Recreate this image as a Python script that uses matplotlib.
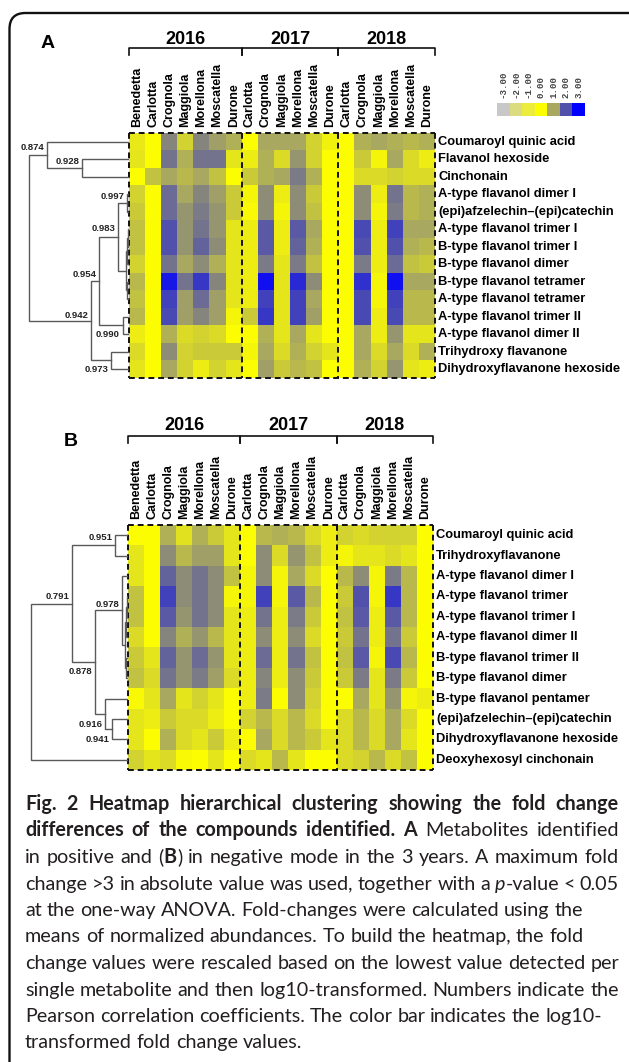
import matplotlib
matplotlib.use('Agg')
import matplotlib.pyplot as plt
from matplotlib.colors import LinearSegmentedColormap
from matplotlib.patches import FancyBboxPatch
from matplotlib.transforms import IdentityTransform
import numpy as np

# ---------------- data ----------------
years = ["2016", "2017", "2018"]
cultivars_2016 = ["Benedetta", "Carlotta", "Crognola", "Maggiola", "Morellona", "Moscatella", "Durone"]
cultivars_2017 = ["Carlotta", "Crognola", "Maggiola", "Morellona", "Moscatella", "Durone"]
cultivars_2018 = ["Carlotta", "Crognola", "Maggiola", "Morellona", "Moscatella", "Durone"]
columns = cultivars_2016 + cultivars_2017 + cultivars_2018
block_sizes = [len(cultivars_2016), len(cultivars_2017), len(cultivars_2018)]

compounds_a = ["Coumaroyl quinic acid", "Flavanol hexoside", "Cinchonain",
               "A-type flavanol dimer I", "(epi)afzelechin\u2013(epi)catechin",
               "A-type flavanol trimer I", "B-type flavanol trimer I", "B-type flavanol dimer",
               "B-type flavanol tetramer", "A-type flavanol tetramer", "A-type flavanol trimer II",
               "A-type flavanol dimer II", "Trihydroxy flavanone", "Dihydroxyflavanone hexoside"]
compounds_b = ["Coumaroyl quinic acid", "Trihydroxyflavanone", "A-type flavanol dimer I",
               "A-type flavanol trimer", "A-type flavanol trimer I", "A-type flavanol dimer II",
               "B-type flavanol trimer II", "B-type flavanol dimer", "B-type flavanol pentamer",
               "(epi)afzelechin\u2013(epi)catechin", "Dihydroxyflavanone hexoside",
               "Deoxyhexosyl cinchonain"]

# log10 fold change, rows = compounds, columns = year/cultivar
fold_a = np.array([
    [0.25, 0, 1.4, 0.5, 1.4, 1.1, 0.9, 0.0, 1.0, 1.0, 1.0, 0.5, 0.15, 0, 0.9, 1.0, 0.9, 0.8, 0.9],
    [0.3, 0, 1.6, 0.9, 1.6, 1.6, 0.3, 0.2, 0.9, 0.4, 1.2, 0.5, 0, 0, 0.6, 0.1, 1.0, 0.4, 0.2],
    [0.0, 0.7, 1.0, 0.8, 1.0, 0.7, 0.0, 0.6, 0.9, 1.0, 1.5, 0.9, 0, 0, 0.4, 0.4, 0.5, 0.4, 0.4],
    [0.5, 0, 1.7, 1.0, 1.4, 1.1, 0.6, 0.1, 1.3, 0.2, 1.3, 0.6, 0, 0, 1.3, 0.2, 1.6, 0.8, 0.9],
    [0.6, 0, 1.7, 1.2, 1.5, 1.2, 0.6, 0.05, 1.3, 0.1, 1.3, 0.7, 0, 0, 1.3, 0.1, 1.5, 0.8, 0.9],
    [0.7, 0, 2.0, 1.2, 1.6, 1.2, 0.3, 0.2, 1.9, 0.2, 1.9, 1.0, 0, 0, 2.1, 0.2, 2.2, 1.0, 1.0],
    [0.7, 0, 2.0, 1.2, 1.8, 1.3, 0.3, 0.2, 1.9, 0.2, 1.8, 0.9, 0, 0, 2.0, 0.2, 2.0, 0.9, 0.8],
    [0.5, 0, 1.6, 1.0, 1.3, 0.9, 0.3, 0.2, 1.5, 0.3, 1.5, 0.7, 0, 0, 1.5, 0.2, 1.7, 0.7, 0.6],
    [0.8, 0, 2.7, 1.6, 2.3, 1.4, 0.3, 0.2, 2.8, 0.3, 2.5, 1.3, 0, 0, 2.4, 0.1, 2.8, 1.0, 1.0],
    [0.7, 0, 2.2, 1.1, 1.7, 1.1, 0.3, 0.2, 2.2, 0.3, 2.2, 1.0, 0, 0, 2.1, 0.1, 2.2, 0.8, 0.8],
    [0.8, 0, 2.1, 1.1, 1.4, 1.1, 0.1, 0.6, 2.3, 0.3, 2.2, 1.1, 0, 0, 2.1, 0.2, 2.1, 0.8, 0.8],
    [0.2, 0, 0.9, 0.4, 0.5, 0.4, 0.0, 0.0, 0.9, 0.3, 1.0, 0.3, 0, 0, 1.0, 0.2, 1.2, 0.3, 0.3],
    [0.4, 0, 1.3, 0.5, 0.6, 0.6, 0.6, 0.1, 1.0, 0.4, 0.9, 0.5, 0.3, 0, 1.0, 0.4, 1.0, 0.4, 0.9],
    [0.3, 0, 1.0, 0.5, 0.2, 0.5, 0.3, 0.0, 1.1, 0.6, 0.8, 0.7, 0, 0, 0.9, 0.5, 1.2, 0.3, 0.2],
])
fold_b = np.array([
    [0, 0, 0.9, 0.35, 0.9, 0.6, 0.3, 0, 0.8, 0.9, 0.8, 0.4, 0.2, 0.5, 0.4, 0.5, 0.5, 0.5, 0],
    [0.3, 0, 1.3, 0.8, 1.1, 1.1, 0.3, 0, 1.3, 0.4, 1.2, 0.7, 0.2, 0.1, 0.3, 0.3, 0.4, 0.3, 0],
    [0.3, 0, 1.8, 1.3, 1.6, 1.3, 0.7, 0.1, 1.3, 0.1, 1.0, 0.4, 0, 0.8, 1.3, 0.1, 1.5, 0.8, 0],
    [0.7, 0, 2.2, 1.3, 1.6, 1.3, 0.1, 0.1, 2.2, 0.1, 1.9, 0.8, 0, 0.6, 2.0, 0.1, 2.3, 0.8, 0],
    [0.7, 0, 1.9, 1.2, 1.6, 1.3, 0.3, 0.2, 1.6, 0.2, 1.5, 0.6, 0, 0.7, 1.9, 0.2, 1.9, 0.8, 0],
    [0.4, 0, 1.4, 0.9, 1.2, 0.8, 0.3, 0.2, 1.3, 0.2, 1.3, 0.4, 0, 0.6, 1.6, 0.2, 1.6, 0.6, 0],
    [0.6, 0.3, 1.8, 1.2, 1.7, 1.2, 0.3, 0.2, 1.7, 0.2, 1.6, 0.7, 0, 0.7, 1.9, 0.1, 2.1, 0.8, 0],
    [0.7, 0.4, 1.6, 1.2, 1.5, 1.1, 0.4, 0.2, 1.4, 0.2, 1.3, 0.6, 0, 0.6, 1.5, 0.3, 1.5, 0.6, 0],
    [0.05, 0.3, 1.0, 0.3, 0.5, 0.3, 0, 0.2, 1.5, 0, 1.3, 0.5, 0, 0, 1.0, 0.3, 1.2, 0.1, 0.2],
    [0.3, 0.2, 0.6, 0.4, 0.4, 0.2, 0, 0.5, 0.8, 0.4, 0.8, 0.4, 0, 0.4, 0.8, 0.4, 1.0, 0.4, 0],
    [0.3, 0, 0.9, 0.4, 0.3, 0.6, 0.2, 0, 1.0, 0.4, 0.8, 0.6, 0.3, 0.4, 0.8, 0.4, 1.0, 0.3, 0],
    [0.5, 0.3, 0.4, 0.05, 0, 0.3, 0, 0.4, 0.3, 0.8, 0.3, 0, 0, 0.4, 0.5, 0.8, 0.4, 0.7, 0],
])

# dendrograms: (child, child, Pearson r); ids >= n are earlier merges
merges_a = [(1, 2, 0.928), (0, 14, 0.874), (3, 4, 0.997), (5, 6, 0.998), (17, 7, 0.9965),
            (8, 9, 0.997), (18, 19, 0.995), (16, 20, 0.983), (10, 11, 0.990), (21, 22, 0.954),
            (12, 13, 0.973), (23, 24, 0.942), (15, 25, 0.846)]
labelled_a = [True, True, True, False, False, False, False, True, True, True, True, True, False]
merges_b = [(0, 1, 0.951), (3, 4, 0.995), (13, 5, 0.992), (6, 7, 0.993), (14, 15, 0.989),
            (2, 16, 0.978), (9, 10, 0.941), (8, 18, 0.916), (17, 19, 0.878), (12, 20, 0.791),
            (21, 11, 0.640)]
labelled_b = [True, False, False, False, False, True, True, True, True, True, False]

colorbar_ticks = [-3, -2, -1, 0, 1, 2, 3]
colorbar_colors = ['#c8c8c8', '#dcdc80', '#ecec3c', '#ffff00', '#a8a860', '#5252ac', '#0000ff']

caption_lines = [
    "*Fig. 2 Heatmap hierarchical clustering showing the fold change*",
    "*differences of the compounds identified. A* Metabolites identified",
    "in positive and (*B*) in negative mode in the 3 years. A maximum fold",
    "change >3 in absolute value was used, together with a _p_-value < 0.05",
    "at the one-way ANOVA. Fold-changes were calculated using the",
    "means of normalized abundances. To build the heatmap, the fold",
    "change values were rescaled based on the lowest value detected per",
    "single metabolite and then log10-transformed. Numbers indicate the",
    "Pearson correlation coefficients. The color bar indicates the log10-",
    "transformed fold change values.",
]
justify = [True, True, True, True, False, False, True, True, False, False]

# ---------------- layout ----------------
W, H = 629, 1062
LABEL_FONT = ['Liberation Sans', 'DejaVu Sans']
TEXT_FONT = ['Lato', 'DejaVu Sans']
cmap = LinearSegmentedColormap.from_list(
    'fc', [((t + 3) / 6, c) for t, c in zip(colorbar_ticks, colorbar_colors)])

fig = plt.figure(figsize=(W / 100, H / 100), dpi=100)


def px_axes(x0, y0, x1, y1):
    ax = fig.add_axes([x0 / W, 1 - y1 / H, (x1 - x0) / W, (y1 - y0) / H])
    ax.set_axis_off()
    return ax


def draw_heatmap(box, values, names):
    ax = px_axes(*box)
    nrows, ncols = values.shape
    ax.imshow(values, cmap=cmap, vmin=-3, vmax=3, aspect='auto',
              interpolation='nearest', extent=(0, ncols, nrows, 0))
    ax.set_xlim(0, ncols)
    ax.set_ylim(nrows, 0)
    dash = dict(color='#111111', lw=1.4, ls=(0, (3, 2)), clip_on=False, zorder=3)
    ax.plot([0, ncols], [0, 0], **dash)
    ax.plot([0, ncols], [nrows, nrows], **dash)
    edges = np.concatenate([[0], np.cumsum(block_sizes)])
    for e in edges:
        ax.plot([e, e], [0, nrows], **dash)
    for i, name in enumerate(names):
        ax.text(ncols + 0.2, i + 0.5, name, ha='left', va='center', fontsize=9.3,
                fontweight='bold', family=LABEL_FONT)


def draw_header(box, y_year, y_br_top, y_br_bot, y_lab):
    ax = px_axes(*box)
    ax.set_xlim(0, len(columns))
    ax.set_ylim(box[3], box[1])
    for i, name in enumerate(columns):
        ax.text(i + 0.5, y_lab, name, rotation=90, ha='center', va='bottom',
                fontsize=9, fontweight='bold', family=LABEL_FONT)
    start = 0
    for year, n in zip(years, block_sizes):
        ax.plot([start, start, start + n, start + n], [y_br_bot, y_br_top, y_br_top, y_br_bot],
                color='#111111', lw=1.2, clip_on=False)
        ax.text(start + n / 2, y_year, year, ha='center', va='center', fontsize=13,
                fontweight='bold', family=LABEL_FONT)
        start += n


def draw_dendrogram(box, n, merges, labelled, px_per_unit, label_frac):
    ax = px_axes(*box)
    ax.set_xlim((box[2] - box[0]) / px_per_unit, 0)
    ax.set_ylim(n, 0)
    pos = {i: i + 0.5 for i in range(n)}
    height = {i: 0.0 for i in range(n)}
    for k, (a, b, r) in enumerate(merges):
        d = 1 - r
        ya, yb = pos[a], pos[b]
        ax.plot([height[a], d, d, height[b]], [ya, ya, yb, yb], color='#5a5a5a', lw=1.0,
                solid_joinstyle='miter')
        pos[n + k] = (ya + yb) / 2
        height[n + k] = d
        if labelled[k]:
            top, bot = min(ya, yb), max(ya, yb)
            ax.text(d + 2.5 / px_per_unit, top + label_frac[k] * (bot - top), f"{r:.3f}",
                    ha='right', va='center', fontsize=6.8, fontweight='bold',
                    family=LABEL_FONT, color='#222222')


# frame
fig.add_artist(FancyBboxPatch((9.5, -60), 700, H - 13 + 60, boxstyle='round,pad=0,rounding_size=16',
                              transform=IdentityTransform(), fill=False, ec='#111111', lw=1.7))

# panel A
fig.text(48 / W, 1 - 44 / H, "A", fontsize=14, fontweight='bold', family=LABEL_FONT,
         ha='center', va='center')
draw_header((129, 20, 435, 131), 39, 48, 55, 127)
draw_heatmap((129, 133, 435, 378), fold_a, compounds_a)
frac_a = [0.1, 0.2, 0.15, 0, 0, 0, 0, 0.38, 1.0, 0.42, 1.0, 0.43, 0]
draw_dendrogram((0, 133, 129, 378), len(compounds_a), merges_a, labelled_a, 650, frac_a)

# colour bar
cax = px_axes(497, 103, 585, 116)
cax.imshow(np.array(colorbar_ticks)[None, :], cmap=cmap, vmin=-3, vmax=3, aspect='auto',
           interpolation='nearest')
cax.set_ylim(0.5, -0.5)
for i, t in enumerate(colorbar_ticks):
    cax.text(i, -0.85, f"{t:.2f}", rotation=90, ha='center', va='bottom', fontsize=6.6,
             fontweight='bold', family=['Liberation Mono', 'DejaVu Sans Mono'], color='#444444')

# panel B
fig.text(71 / W, 1 - 441 / H, "B", fontsize=14, fontweight='bold', family=LABEL_FONT,
         ha='center', va='center')
draw_header((128, 405, 433, 523), 425, 436, 443, 519)
draw_heatmap((128, 525, 433, 770), fold_b, compounds_b)
frac_b = [0.1, 0, 0, 0, 0, 0.41, 1.0, 0.84, 0.59, 0.44, 0]
draw_dendrogram((0, 525, 128, 770), len(compounds_b), merges_b, labelled_b, 270, frac_b)


# caption (justified text, *bold* and _italic_ markup)
def parse_markup(line):
    words, word, buf = [], [], ''
    bold = italic = False
    for ch in line:
        if ch in '*_ ':
            if buf:
                word.append((buf, bold, italic))
                buf = ''
            if ch == '*':
                bold = not bold
            elif ch == '_':
                italic = not italic
            elif word:
                words.append(word)
                word = []
        else:
            buf += ch
    if buf:
        word.append((buf, bold, italic))
    if word:
        words.append(word)
    return words


renderer = fig.canvas.get_renderer()


def make_text(s, bold, italic, fs):
    return fig.text(0, 0, s, fontsize=fs, family=TEXT_FONT, fontweight='bold' if bold else 'normal',
                    fontstyle='italic' if italic else 'normal', ha='left', va='baseline',
                    color='#231f20')


def width_of(t):
    return t.get_window_extent(renderer).width


x_left, x_right = 25, 619
# font size calibrated so that line 5 (ragged) spans its width in the original
probe = make_text("at the one-way ANOVA. Fold-changes were calculated using the", False, False, 12)
cap_fs = 12 * (583 - x_left) / width_of(probe)
probe.remove()
t1, t2 = make_text("a a", False, False, cap_fs), make_text("aa", False, False, cap_fs)
space = width_of(t1) - width_of(t2)
t1.remove()
t2.remove()

for li, line in enumerate(caption_lines):
    # whole-pixel baseline (+0.2 px) so every word of a line rounds to the same row
    base = H - round(810 + 26.5 * li) + 0.2
    words = parse_markup(line)
    placed = []
    for word in words:
        pieces = [make_text(s, b, it, cap_fs) for s, b, it in word]
        placed.append((pieces, [width_of(p) for p in pieces]))
    total = sum(sum(ws) for _, ws in placed)
    gap = (x_right - x_left - total) / (len(placed) - 1) if justify[li] and len(placed) > 1 else space
    x = x_left
    for pieces, ws in placed:
        for p, w in zip(pieces, ws):
            p.set_position((x / W, base / H))
            x += w
        x += gap

fig.savefig('out.png', dpi=100)
